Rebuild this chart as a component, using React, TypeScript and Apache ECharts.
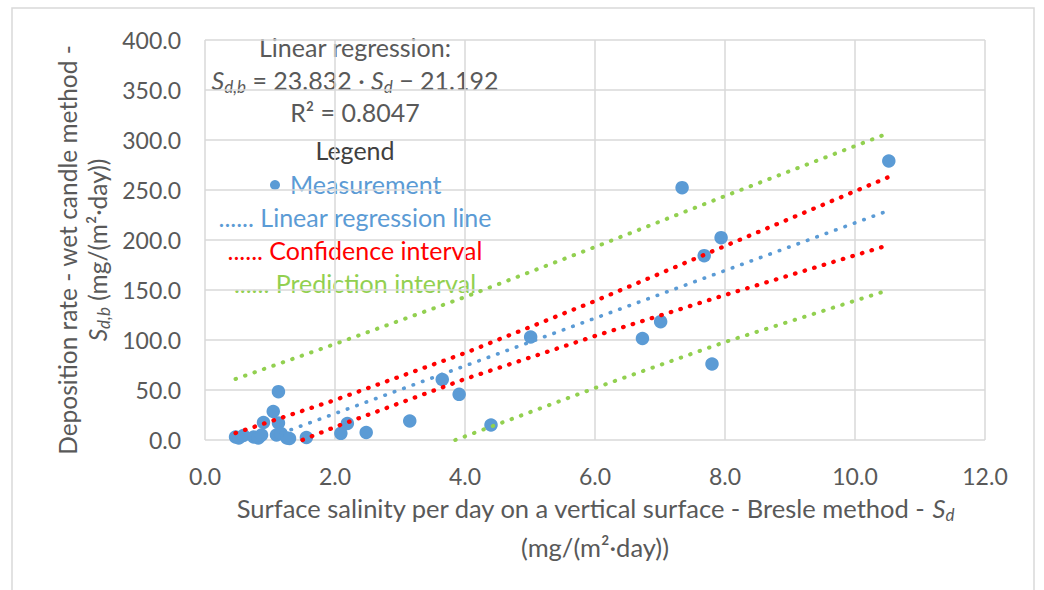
import React, { useEffect, useRef } from "react";
import * as echarts from "echarts";

// Measurements (Bresle S_d, wet candle S_d,b)
const measX = [0.47, 0.52, 0.59, 0.75, 0.82, 0.87, 0.9, 1.05, 1.13, 1.13, 1.1, 1.17, 1.26, 1.3, 1.56, 2.09, 2.19, 2.48, 3.15, 3.65, 3.91, 4.4, 5.01, 6.73, 7.01, 7.34, 7.68, 7.8, 7.94, 10.52];
const measY = [3, 2, 4.5, 3, 2, 5, 17.5, 28.5, 48.3, 17, 5, 6.5, 2, 1.5, 2.5, 6.7, 16.5, 7.5, 19, 60.5, 45.7, 15, 103, 101.5, 118.3, 252.3, 184.3, 76, 202.3, 279];

// Regression line and interval bands
const regX = [0.89, 10.52];
const regY = [0, 229.5];
const ciUpperX = [0.47, 2, 4, 6, 8, 10.52];
const ciUpperY = [7, 40, 87, 139, 194, 263];
const ciLowerX = [1.5, 2, 4, 6, 8, 10.52];
const ciLowerY = [0, 13, 61, 104, 145, 195];
const piUpperX = [0.47, 2, 4, 6, 8, 10.52];
const piUpperY = [61, 96, 143, 193, 244, 307];
const piLowerX = [3.85, 6, 8, 10.52];
const piLowerY = [0, 52, 98, 150];

const xTicks = { min: 0, max: 12, interval: 2 };
const yTicks = { min: 0, max: 400, interval: 50 };

const BLUE = "#5b9bd5";
const RED = "#ff0000";
const GREEN = "#92d050";
const TXT = "#595959";
const FONT = "Lato";

const zip = (xs: number[], ys: number[]) => xs.map((x, i) => [x, ys[i]]);

const dotted = (color: string, width: number) => ({
  color,
  width,
  type: [0.5, 9.5] as any,
  cap: "round" as any,
});

export default function App() {
  const ref = useRef<HTMLDivElement>(null);
  useEffect(() => {
    if (!ref.current) return;
    const chart = echarts.init(ref.current, null, { renderer: "svg" });
    const fx = 25.5;
    const fy = 24.5;
    const ann = 25;
    const mkRich = (size: number) => ({
      i: { fontFamily: FONT, fontSize: size, fontStyle: "italic", color: TXT },
      sub: { fontFamily: FONT, fontSize: Math.round(size * 0.68), fontStyle: "italic", color: TXT, padding: [Math.round(size * 0.5), 0, 0, 0] },
    });
    const annText = (y: number, text: string, fill: string) => ({
      type: "text",
      x: 355,
      y,
      style: { text, fill, font: `${ann}px ${FONT}`, align: "center", verticalAlign: "middle" },
    });
    chart.setOption({
      animation: false,
      backgroundColor: "#ffffff",
      grid: { left: 205, right: 59, top: 40, bottom: 150, containLabel: false },
      xAxis: {
        type: "value",
        min: xTicks.min,
        max: xTicks.max,
        interval: xTicks.interval,
        axisLine: { show: false },
        axisTick: { show: false },
        axisLabel: { color: TXT, fontFamily: FONT, fontSize: 23, margin: 24, formatter: (v: number) => v.toFixed(1) },
        splitLine: { show: true, lineStyle: { color: "#d9d9d9", width: 1.5 } },
      },
      yAxis: {
        type: "value",
        min: yTicks.min,
        max: yTicks.max,
        interval: yTicks.interval,
        axisLine: { show: false },
        axisTick: { show: false },
        axisLabel: { color: TXT, fontFamily: FONT, fontSize: 23, margin: 24, formatter: (v: number) => v.toFixed(1) },
        splitLine: { show: true, lineStyle: { color: "#d9d9d9", width: 1.5 } },
      },
      series: [
        { name: "Prediction upper", type: "line", data: zip(piUpperX, piUpperY), symbol: "none", lineStyle: dotted(GREEN, 4), silent: true },
        { name: "Prediction lower", type: "line", data: zip(piLowerX, piLowerY), symbol: "none", lineStyle: dotted(GREEN, 4), silent: true },
        { name: "Confidence upper", type: "line", data: zip(ciUpperX, ciUpperY), symbol: "none", lineStyle: dotted(RED, 4.3), silent: true },
        { name: "Confidence lower", type: "line", data: zip(ciLowerX, ciLowerY), symbol: "none", lineStyle: dotted(RED, 4.3), silent: true },
        { name: "Regression", type: "line", data: zip(regX, regY), symbol: "none", lineStyle: dotted(BLUE, 3.6), silent: true },
        {
          name: "Measurement",
          type: "scatter",
          data: zip(measX, measY),
          symbol: "circle",
          symbolSize: 13.5,
          clip: false,
          itemStyle: { color: BLUE, opacity: 1 },
        },
      ],
      graphic: [
        {
          type: "rect",
          silent: true,
          shape: { x: 12, y: 8, width: 1022, height: 600 },
          style: { fill: "none", stroke: "#d9d9d9", lineWidth: 1.5 },
          z: -10,
        },
        // annotation
        annText(47, "Linear regression:", TXT),
        {
          type: "text",
          x: 355,
          y: 80,
          style: {
            text: "{i|S}{sub|d,b} = 23.832 · {i|S}{sub|d} − 21.192",
            fill: TXT,
            fontFamily: FONT,
            fontSize: ann,
            align: "center",
            verticalAlign: "middle",
            rich: mkRich(ann),
          },
        },
        annText(112, "R² = 0.8047", TXT),
        annText(150, "Legend", "#404040"),
        { type: "circle", shape: { cx: 275, cy: 185, r: 5 }, style: { fill: BLUE } },
        { type: "text", x: 290, y: 184, style: { text: "Measurement", fill: BLUE, font: `${ann}px ${FONT}`, align: "left", verticalAlign: "middle" } },
        annText(217, "...... Linear regression line", BLUE),
        annText(250, "...... Confidence interval", RED),
        annText(283, "...... Prediction interval", GREEN),
        // x-axis title
        {
          type: "text",
          x: 595,
          y: 508,
          style: {
            text: "Surface salinity per day on a vertical surface - Bresle method - {i|S}{sub|d}",
            fill: TXT,
            fontFamily: FONT,
            fontSize: fx,
            align: "center",
            verticalAlign: "middle",
            rich: mkRich(fx),
          },
        },
        { type: "text", x: 595, y: 547, style: { text: "(mg/(m²·day))", fill: TXT, font: `${fx}px ${FONT}`, align: "center", verticalAlign: "middle" } },
        // y-axis title
        {
          type: "group",
          x: 67,
          y: 250,
          rotation: Math.PI / 2,
          children: [
            { type: "text", x: 0, y: 0, style: { text: "Deposition rate - wet candle method -", fill: TXT, font: `${fy}px ${FONT}`, align: "center", verticalAlign: "middle" } },
          ],
        },
        {
          type: "group",
          x: 97,
          y: 250,
          rotation: Math.PI / 2,
          children: [
            {
              type: "text",
              x: 0,
              y: 0,
              style: {
                text: "{i|S}{sub|d,b} (mg/(m²·day))",
                fill: TXT,
                fontFamily: FONT,
                fontSize: fy,
                align: "center",
                verticalAlign: "middle",
                rich: mkRich(fy),
              },
            },
          ],
        },
      ],
    });
    return () => chart.dispose();
  }, []);
  return <div ref={ref} style={{ position: "absolute", left: 0, top: 0, width: 1044, height: 590 }} />;
}
